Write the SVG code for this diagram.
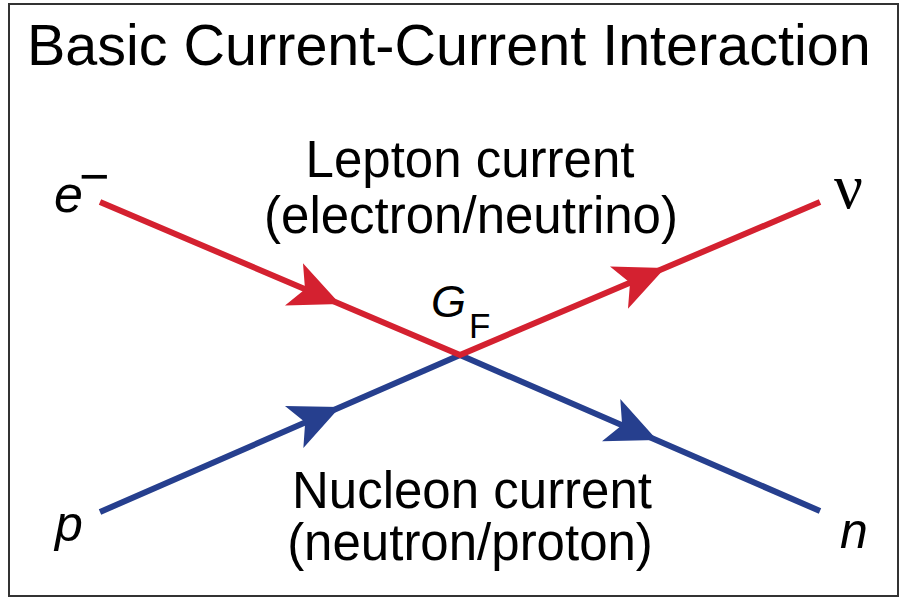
<svg xmlns="http://www.w3.org/2000/svg" xmlns:xlink="http://www.w3.org/1999/xlink" width="905" height="599" viewBox="0 0 905 599">
  <style>
    .txt { font-family: "Liberation Sans", Arial, sans-serif; fill: #000; }
    .lbl { font-size: 51px; text-anchor: middle; }
    .it { font-style: italic; }
    .red { stroke: #d42130; }
    .blue { stroke: #263f8e; }
    .wire { fill: none; stroke-width: 6; stroke-linejoin: miter; stroke-linecap: butt; }
  </style>
  <defs>
    <path id="arrowhead" d="M0,0 L-50,-23 L-38,0 L-50,23 Z"/>
  </defs>
  <rect x="0" y="0" width="905" height="599" fill="#fff"/>
  <rect x="9" y="4" width="889" height="592" fill="#fff" stroke="#333" stroke-width="2"/>

  <g id="title">
    <text class="txt" x="27" y="65" font-size="57.5">Basic Current-Current Interaction</text>
  </g>

  <g id="connectors">
    <path class="wire blue" d="M100,512 L460,355 L820,511"/>
    <path class="wire red" d="M100,202 L460,355 L820,202"/>
    <use xlink:href="#arrowhead" fill="#d42130" transform="translate(340,304) rotate(23.03)"/>
    <use xlink:href="#arrowhead" fill="#d42130" transform="translate(665,268) rotate(-23.03)"/>
    <use xlink:href="#arrowhead" fill="#263f8e" transform="translate(340,407) rotate(-23.56)"/>
    <use xlink:href="#arrowhead" fill="#263f8e" transform="translate(657,440) rotate(23.43)"/>
  </g>

  <g id="lepton-label">
    <text class="txt lbl" x="470" y="177">Lepton current</text>
    <text class="txt lbl" x="471" y="233">(electron/neutrino)</text>
  </g>

  <g id="nucleon-label">
    <text class="txt lbl" x="472" y="508">Nucleon current</text>
    <text class="txt lbl" x="470" y="560">(neutron/proton)</text>
  </g>

  <g id="vertex-GF">
    <text class="txt it" x="431" y="317" font-size="45">G</text>
    <text class="txt" x="469" y="338" font-size="35">F</text>
  </g>

  <g id="electron">
    <text class="txt it" x="54" y="212" font-size="52">e</text>
    <text class="txt" x="79" y="194" font-size="52">−</text>
  </g>

  <g id="neutrino">
    <text x="834" y="208" font-family="'Liberation Serif', 'Times New Roman', serif" font-size="64" fill="#000">ν</text>
  </g>

  <g id="proton">
    <text class="txt it" x="55" y="541" font-size="50">p</text>
  </g>

  <g id="neutron">
    <text class="txt it" x="840" y="548" font-size="50">n</text>
  </g>
</svg>
